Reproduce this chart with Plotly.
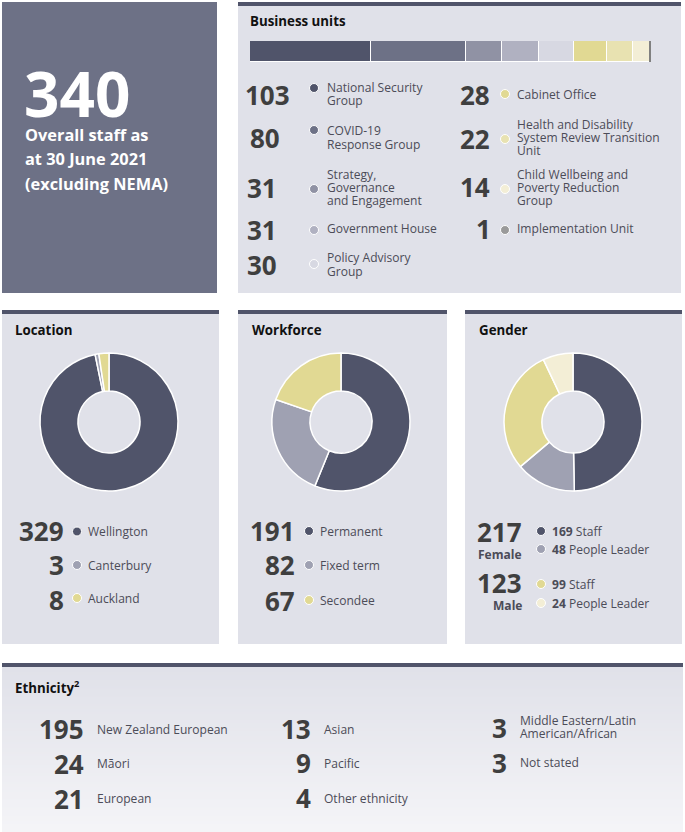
import plotly.graph_objects as go

W, H = 685, 832

unit_names = ["National Security<br>Group", "COVID-19<br>Response Group",
              "Strategy,<br>Governance<br>and Engagement", "Government House",
              "Policy Advisory<br>Group", "Cabinet Office",
              "Health and Disability<br>System Review Transition<br>Unit",
              "Child Wellbeing and<br>Poverty Reduction<br>Group", "Implementation Unit"]
unit_values = [103, 80, 31, 31, 30, 28, 22, 14, 1]
unit_colors = ["#50546a", "#6d7186", "#9092a4", "#b0b1c1", "#d7d8e2",
               "#e1d993", "#e8e2b1", "#f3eed6", "#9a9a9a"]

location_names = ["Wellington", "Canterbury", "Auckland"]
location_values = [329, 3, 8]
workforce_names = ["Permanent", "Fixed term", "Secondee"]
workforce_values = [191, 82, 67]
gender_names = ["Staff", "People Leader", "Staff", "People Leader"]
gender_values = [169, 48, 99, 24]
gender_totals = [217, 123]
gender_groups = ["Female", "Male"]

ethnicity_names = ["New Zealand European", "Māori", "European", "Asian", "Pacific",
                   "Other ethnicity", "Middle Eastern/Latin<br>American/African", "Not stated"]
ethnicity_values = [195, 24, 21, 13, 9, 4, 3, 3]

DARK = "#50546a"
PANEL = "#e0e1e9"
NUM = "#3f3f3f"
LABEL = "#4c4c58"
pie_colors3 = ["#50546a", "#9fa1b2", "#e1d993"]
pie_colors4 = ["#50546a", "#9fa1b2", "#e1d993", "#f3eed6"]


def px(x):
    return x / W


def py(y):
    return 1 - y / H


fig = go.Figure()
shapes = []
notes = []


def rect(x0, y0, x1, y1, color):
    shapes.append(dict(type="rect", xref="paper", yref="paper", layer="below",
                       x0=px(x0), x1=px(x1), y0=py(y0), y1=py(y1),
                       fillcolor=color, line_width=0))


def mix(a, b, t):
    return "rgb(%d,%d,%d)" % tuple(a[i] + (b[i] - a[i]) * t for i in range(3))


def text(x, y, s, size=12.05, color=LABEL, anchor="left", weight=400, step=13.3):
    # one annotation per line, plotly's own line height is too big here
    lines = s.split("<br>")
    top = y - step * (len(lines) - 1) / 2
    for i, line in enumerate(lines):
        notes.append(dict(x=px(x), y=py(top + i * step), xref="paper", yref="paper",
                          text=line, showarrow=False, xanchor=anchor, yanchor="middle",
                          borderpad=0, borderwidth=0,
                          font=dict(family="Open Sans", size=size, color=color, weight=weight)))


def number(x, y, v, anchor="right", size=26):
    text(x, y, str(v), size=size, color=NUM, anchor=anchor, weight=700)


def title(x, y, s):
    text(x, y, s, size=13.3, color="#111111", weight=700)


def donut(values, colors, cx, cy, r):
    fig.add_trace(go.Pie(values=values, sort=False, direction="clockwise", rotation=0,
                         hole=0.45, textinfo="none", showlegend=False,
                         marker=dict(colors=colors, line=dict(color="white", width=1.5)),
                         domain=dict(x=[px(cx - r), px(cx + r)], y=[py(cy + r), py(cy - r)])))


# panels
rect(2, 2, 217, 293, "#6d7186")
rect(238, 2, 681, 293, PANEL)
rect(238, 2, 681, 6, DARK)
for x0, x1 in [(2, 219), (238, 447), (465, 682)]:
    rect(x0, 310, x1, 644, PANEL)
    rect(x0, 310, x1, 314, DARK)
# gradient as one pixel strips so no seams show
for y in range(663, 832):
    rect(2, y, 683, y + 1, mix((224, 225, 233), (245, 245, 248), (y - 663) / 169))
rect(2, 663, 683, 667, DARK)

# headline
text(24, 93, "340", size=62, color="white", weight=700)
for y, s in zip([135, 159, 184], ["Overall staff as", "at 30 June 2021", "(excluding NEMA)"]):
    text(25, y, s, size=16.35, color="white", weight=700)

# business units bar
for name, v, c in zip(unit_names, unit_values, unit_colors):
    edge = "#808080" if v == 1 else "white"  # the 1 person unit would vanish under a white edge
    fig.add_trace(go.Bar(y=["units"], x=[v], orientation="h", name=name.replace("<br>", " "),
                         marker=dict(color=c, line=dict(color=edge, width=1)),
                         xaxis="x", yaxis="y", showlegend=False, width=1))

title(250, 21.5, "Business units")
unit_num_x = [290, 280, 277, 277, 277, 490, 490, 490, 491]
unit_num_y = [95, 138, 188, 229.5, 264.5, 95, 138.5, 187.5, 229]
unit_text_y = [94, 137.5, 187.5, 229, 264.5, 94, 137.5, 187.5, 229]
unit_dot_y = [88, 130, 189, 230, 264, 94, 139, 189, 230]
for i, (name, v) in enumerate(zip(unit_names, unit_values)):
    number(unit_num_x[i], unit_num_y[i], v)
    text(327 if i < 5 else 517, unit_text_y[i], name)
dots_x = [314] * 5 + [505] * 4
dots_y = list(unit_dot_y)
dots_c = list(unit_colors)

# location
title(15, 330.5, "Location")
donut(location_values, pie_colors3, 109, 422, 69)
for ny, ty, n, v, c in zip([531, 565, 600], [531.5, 565, 598], location_names, location_values, pie_colors3):
    number(64, ny, v)
    text(88, ty, n)
    dots_x.append(77); dots_y.append(ty); dots_c.append(c)

# workforce
title(252, 330.5, "Workforce")
donut(workforce_values, pie_colors3, 341, 422, 69)
for ny, ty, n, v, c in zip([531, 565, 601], [531, 565, 600], workforce_names, workforce_values, pie_colors3):
    number(295, ny, v)
    text(320, ty, n)
    dots_x.append(309); dots_y.append(ty); dots_c.append(c)

# gender
title(479, 330.5, "Gender")
donut(gender_values, pie_colors4, 573, 422, 69)
for y, n, v, c in zip([531, 549, 584, 603], gender_names, gender_values, pie_colors4):
    text(552, y, "<b>%d</b> %s" % (v, n))
    dots_x.append(541); dots_y.append(y); dots_c.append(c)
for ny, ty, v, g in zip([532, 583], [554, 605], gender_totals, gender_groups):
    number(522, ny, v)
    text(522, ty, g, anchor="right", weight=700)

# ethnicity
title(15, 687, "Ethnicity<sup>2</sup>")
eth_num_x = [84, 84, 84, 311, 311, 311, 507, 507]
eth_text_x = [97, 97, 97, 324, 324, 324, 520, 520]
eth_num_y = [729, 764, 799, 729, 763, 798, 728, 763]
eth_text_y = [729, 763, 798, 729, 763, 798, 727, 762]
for i, (n, v) in enumerate(zip(ethnicity_names, ethnicity_values)):
    number(eth_num_x[i], eth_num_y[i], v)
    text(eth_text_x[i], eth_text_y[i], n)

# legend dots, on a hidden full page axis in pixel units
fig.add_trace(go.Scatter(x=dots_x, y=dots_y, mode="markers", xaxis="x2", yaxis="y2",
                         showlegend=False, hoverinfo="skip",
                         marker=dict(size=9, color=dots_c, line=dict(color="white", width=1))))

hidden = dict(visible=False, fixedrange=True)
fig.update_layout(
    width=W, height=H, margin=dict(l=0, r=0, t=0, b=0, pad=0, autoexpand=False),
    paper_bgcolor="white", plot_bgcolor="rgba(0,0,0,0)",
    barmode="stack", bargap=0,
    xaxis=dict(domain=[px(250), px(651)], range=[0, 340], **hidden),
    yaxis=dict(domain=[py(62), py(41)], **hidden),
    xaxis2=dict(domain=[0, 1], range=[0, W], anchor="y2", **hidden),
    yaxis2=dict(domain=[0, 1], range=[H, 0], anchor="x2", **hidden),
    shapes=shapes, annotations=notes,
)

fig.write_html("out.html", config=dict(displayModeBar=False),
               post_script="document.body.style.margin='0';document.documentElement.style.overflow='hidden';")
